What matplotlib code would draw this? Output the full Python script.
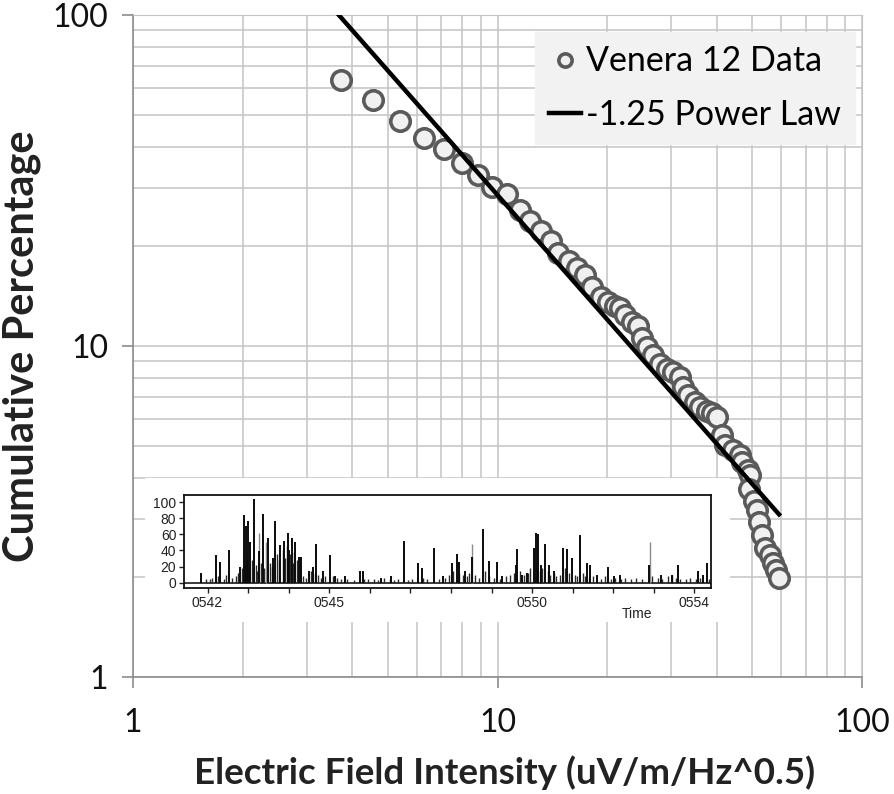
import matplotlib
matplotlib.use("Agg")
import matplotlib.pyplot as plt
from matplotlib.patches import Rectangle
from matplotlib.ticker import FixedLocator, NullFormatter, FuncFormatter

# ---- main data ----
field = [3.72, 4.55, 5.40, 6.29, 7.13, 7.99, 8.84, 9.66, 10.6, 11.5, 12.3, 13.2, 14.0, 14.7,
         15.7, 16.5, 17.4, 18.2, 19.2, 20.1, 21.0, 21.7, 22.4, 23.4, 24.3, 24.9, 25.7, 26.7,
         27.9, 29.2, 30.3, 31.7, 32.3, 33.3, 34.8, 35.9, 37.6, 38.8, 40.0, 41.3, 42.1, 44.3,
         46.3, 46.9, 48.7, 49.3, 49.0, 50.5, 51.5, 52.2, 53.2, 54.2, 55.9, 57.0, 58.1, 59.2]
cum_pct = [63.6, 55.4, 47.8, 42.5, 39.4, 35.7, 32.9, 30.2, 28.8, 25.8, 23.9, 22.3, 20.8, 19.1,
           18.1, 17.2, 16.4, 15.1, 14.1, 13.6, 13.2, 13.0, 12.4, 11.8, 11.5, 10.6, 9.93, 9.39,
           8.82, 8.52, 8.35, 8.06, 7.52, 7.11, 6.77, 6.54, 6.36, 6.28, 6.10, 5.38, 5.02, 4.85,
           4.69, 4.46, 4.22, 4.08, 3.70, 3.40, 3.20, 2.94, 2.69, 2.45, 2.34, 2.21, 2.11, 1.99]
law_x = [3.67, 59.2]
law_y = [100.0, 3.1]

# ---- inset data (minutes after 05:00, height) ----
spike_t = [41.84, 42.2, 42.31, 42.52, 42.8, 42.89, 42.94, 42.99, 43.05, 43.15, 43.26, 43.37,
           43.5, 43.62, 43.67, 43.79, 43.89, 43.98, 44.0, 44.07, 44.16, 44.26, 44.3, 44.5,
           44.61, 44.68, 44.84, 45.01, 45.14, 45.38, 45.75, 45.83, 46.27, 46.53, 46.84, 47.19,
           47.28, 47.58, 47.8, 48.02, 48.14, 48.19, 48.35, 48.53, 48.79, 48.95, 49.14, 49.25,
           49.6, 49.64, 49.76, 49.88, 50.04, 50.09, 50.14, 50.23, 50.33, 50.42, 50.53, 50.77,
           50.87, 50.99, 51.18, 51.35, 51.42, 51.6, 51.86, 52.03, 52.17, 52.88, 53.17, 53.46,
           53.6, 54.1, 54.22, 54.3]
spike_h = [12, 34, 26, 40, 20, 84, 70, 77, 50, 104, 39, 85,
           55, 30, 76, 47, 52, 61, 40, 55, 50, 32, 32, 15,
           20, 48, 15, 34, 8, 8, 15, 15, 6, 8, 52, 25,
           18, 43, 8, 25, 36, 26, 15, 32, 66, 27, 26, 8,
           22, 42, 10, 12, 43, 62, 60, 22, 48, 22, 15, 43,
           42, 31, 59, 25, 22, 10, 20, 8, 10, 22, 10, 10,
           22, 15, 10, 25]
grey_t = [43.28, 43.45, 48.52, 52.9]
grey_h = [62, 50, 48, 50]
minor_t = [41.95, 42.05, 42.1, 42.25, 42.4, 42.45, 42.6, 42.7, 42.75, 42.85, 42.92, 42.97,
           43.02, 43.1, 43.2, 43.23, 43.32, 43.4, 43.55, 43.6, 43.72, 43.75, 43.85, 43.92,
           43.95, 44.03, 44.1, 44.12, 44.2, 44.35, 44.42, 44.55, 44.65, 44.72, 44.8, 44.9,
           45.1, 45.2, 45.3, 45.45, 45.6, 45.85, 45.95, 46.1, 46.2, 46.35, 46.5, 46.6, 46.7,
           46.95, 47.05, 47.3, 47.4, 47.7, 47.85, 47.95, 48.05, 48.2, 48.3, 48.4, 48.45, 48.6,
           48.7, 48.85, 48.95, 49.05, 49.2, 49.35, 49.45, 49.55, 49.7, 49.8, 49.9, 49.95,
           50.12, 50.2, 50.25, 50.4, 50.45, 50.55, 50.6, 50.7, 50.82, 50.92, 51.05, 51.1,
           51.25, 51.3, 51.4, 51.5, 51.7, 51.8, 51.95, 52.05, 52.2, 52.3, 52.45, 52.55, 52.7,
           52.95, 53.1, 53.2, 53.35, 53.45, 53.55, 53.65, 53.8, 53.9, 54.05, 54.15, 54.35]
minor_h = [5, 4, 6, 8, 5, 10, 6, 8, 12, 18, 25, 30,
           20, 28, 22, 15, 25, 18, 25, 20, 35, 28, 40, 30,
           45, 35, 25, 38, 28, 8, 6, 14, 12, 9, 6, 8,
           8, 6, 5, 4, 3, 5, 4, 5, 3, 6, 4, 3, 5,
           3, 4, 6, 5, 4, 6, 10, 14, 12, 10, 8, 12, 10,
           6, 14, 8, 6, 5, 8, 10, 12, 14, 10, 12, 18,
           20, 15, 18, 14, 10, 12, 8, 10, 18, 12, 10, 8,
           12, 8, 6, 8, 5, 8, 5, 6, 5, 6, 5, 6, 5,
           8, 6, 5, 8, 10, 6, 4, 5, 6, 5, 6, 4]
inset_ticks = [42, 43, 44, 45, 46, 47, 48, 49, 50, 51, 52, 53, 54]
inset_labels = {42: "0542", 45: "0545", 50: "0550", 54: "0554"}

W, H = 894, 794
FONT = ["Lato", "DejaVu Sans"]
IFONT = ["Liberation Sans", "DejaVu Sans"]
plt.rcParams["font.family"] = FONT

fig = plt.figure(figsize=(W / 100, H / 100), dpi=100)
L, R, T, B = 133, 862, 15, 677
ax = fig.add_axes([L / W, 1 - B / H, (R - L) / W, (B - T) / H])
ax.set_xscale("log")
ax.set_yscale("log")
ax.set_xlim(1, 100)
ax.set_ylim(1, 100)

grid_c = "#c4c4c4"
ax.grid(True, which="both", color=grid_c, lw=1.1)
ax.set_axisbelow(True)
for s in ["top", "right"]:
    ax.spines[s].set_color(grid_c)
for s in ["left", "bottom"]:
    ax.spines[s].set_color("#8c8c8c")
    ax.spines[s].set_linewidth(1.2)

fmt = FuncFormatter(lambda v, p: f"{v:g}")
ax.xaxis.set_major_formatter(fmt)
ax.yaxis.set_major_formatter(fmt)
ax.xaxis.set_minor_formatter(NullFormatter())
ax.yaxis.set_minor_formatter(NullFormatter())
ax.tick_params(which="major", length=8, width=1.2, color="#8c8c8c", labelsize=23,
               labelcolor="#111111", direction="out")
ax.tick_params(axis="y", which="major", pad=10)
ax.tick_params(axis="x", which="major", pad=14)
ax.tick_params(which="minor", length=0)

ax.plot(field, cum_pct, ls="none", marker="o", ms=14, mfc="#f0f0f0", mec="#5a5a5a",
        mew=2.6, zorder=4, label="Venera 12 Data")
ax.plot(law_x, law_y, color="black", lw=3.2, zorder=5, label="-1.25 Power Law")

leg = ax.legend(loc="upper right", bbox_to_anchor=(0.9905, 0.9745),
                fontsize=24.5, frameon=True, fancybox=False, facecolor="#f2f2f2",
                edgecolor="#f2f2f2", framealpha=1, handlelength=0.95, handletextpad=0.15,
                borderpad=0.4, labelspacing=0.62, borderaxespad=0, markerscale=0.68)
leg.set_zorder(6)

ax.set_xlabel("Electric Field Intensity (uV/m/Hz^0.5)", fontsize=26.5, fontweight="bold",
              color="#222222")
ax.xaxis.set_label_coords((505 - L) / (R - L), (B - 773) / (B - T))
ax.xaxis.label.set_va("center")
ax.set_ylabel("Cumulative Percentage", fontsize=30, fontweight="bold", color="#222222")
ax.yaxis.set_label_coords((22 - L) / (R - L), (B - 346) / (B - T))
ax.yaxis.label.set_va("center")

# white backdrop of the inset picture
fig.add_artist(Rectangle((145 / W, 1 - 622 / H), (730 - 145) / W, (622 - 478) / H,
                         transform=fig.transFigure, facecolor="white", edgecolor="none",
                         zorder=1))

IL, IR, IT, IB = 184, 711, 495, 588
axi = fig.add_axes([IL / W, 1 - IB / H, (IR - IL) / W, (IB - IT) / H], zorder=3)
axi.set_xlim(41.42, 54.41)
axi.set_ylim(-6.6, 108.7)
axi.axhline(0, color="#1a1a1a", lw=1.2)
axi.vlines(minor_t, 0, minor_h, color="#2a2a2a", lw=1.0)
axi.vlines(grey_t, 0, grey_h, color="#8a8a8a", lw=1.0)
axi.vlines(spike_t, 0, spike_h, color="#0a0a0a", lw=1.4)
axi.xaxis.set_major_locator(FixedLocator(inset_ticks))
axi.xaxis.set_major_formatter(FuncFormatter(lambda v, p: inset_labels.get(int(round(v)), "")))
axi.set_yticks([0, 20, 40, 60, 80, 100])
for s in axi.spines.values():
    s.set_color("#111111")
    s.set_linewidth(1.3)
axi.tick_params(labelsize=10, length=3.5, width=1, pad=2, labelcolor="#222222",
                color="#222222")
for lab in axi.get_xticklabels() + axi.get_yticklabels():
    lab.set_fontfamily(IFONT)
axi.text(52.58, -0.2, "Time", transform=axi.get_xaxis_transform(), ha="center", va="top",
         fontsize=10, family=IFONT, color="#222222")

fig.savefig("out.png", dpi=100)
